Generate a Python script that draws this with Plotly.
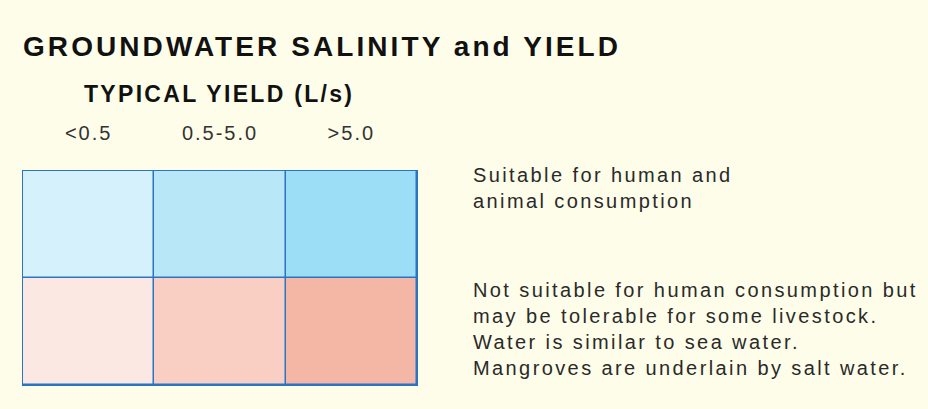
import plotly.graph_objects as go

yield_labels = ["<0.5", "0.5-5.0", ">5.0"]
salinity_rows = ["Fresh", "Saline"]
cell_codes = [[0, 1, 2], [3, 4, 5]]
cell_colors = ["#D5F1FC", "#B8E8F7", "#9CDEF5", "#FBE8E3", "#F9CFC4", "#F4B6A5"]
row_descriptions = [
    "Suitable for human and<br>animal consumption",
    "Not suitable for human consumption but<br>may be tolerable for some livestock.<br>Water is similar to sea water.<br>Mangroves are underlain by salt water.",
]
title_text = "GROUNDWATER SALINITY and YIELD"
subtitle_text = "TYPICAL YIELD (L/s)"

BG = "#FEFDE9"
LINE = "#2A74C4"
FONT = "Liberation Sans, Arial, sans-serif"

n = len(cell_colors)
colorscale = []
for i, c in enumerate(cell_colors):
    colorscale.append([i / n, c])
    colorscale.append([(i + 1) / n, c])

fig = go.Figure(
    go.Heatmap(
        z=cell_codes,
        x=yield_labels,
        y=salinity_rows,
        colorscale=colorscale,
        zmin=-0.5,
        zmax=n - 0.5,
        showscale=False,
        xgap=1.5,
        ygap=1.5,
        hoverinfo="skip",
    )
)

fig.update_layout(
    width=928,
    height=409,
    paper_bgcolor=BG,
    plot_bgcolor=LINE,
    margin=dict(l=23, r=511, t=171, b=24),
    showlegend=False,
    hovermode=False,
    font=dict(family=FONT, color="#222"),
)
fig.update_xaxes(
    side="top",
    showgrid=False,
    zeroline=False,
    ticks="",
    ticklabelstandoff=22,
    tickfont=dict(size=20, color="#333"),
    showline=True,
    linecolor=LINE,
    linewidth=1.2,
    mirror=True,
    fixedrange=True,
)
fig.update_yaxes(
    autorange="reversed",
    showgrid=False,
    zeroline=False,
    showticklabels=False,
    ticks="",
    showline=True,
    linecolor=LINE,
    linewidth=1.2,
    mirror=True,
    fixedrange=True,
)

fig.add_annotation(
    text="<b>" + title_text + "</b>", xref="paper", yref="paper",
    x=(21 - 23) / 394, y=(385 - 46) / 214, xanchor="left", yanchor="middle", align="left",
    showarrow=False, font=dict(size=28, color="#111", family=FONT),
)
fig.add_annotation(
    text="<b>" + subtitle_text + "</b>", xref="paper", yref="paper",
    x=(82 - 23) / 394, y=(385 - 94) / 214, xanchor="left", yanchor="middle", align="left",
    showarrow=False, font=dict(size=23, color="#111", family=FONT),
)
row_centers_px = [188, 329]
for desc, yc in zip(row_descriptions, row_centers_px):
    fig.add_annotation(
        text=desc, xref="paper", yref="paper",
        x=(471 - 23) / 394, y=(385 - yc) / 214, xanchor="left", yanchor="middle",
        align="left", showarrow=False, font=dict(size=20, color="#2a2a2a", family=FONT),
    )

post = (
    "document.body.style.margin='0';"
    "var s=document.createElement('style');"
    "s.textContent='.annotation-text{letter-spacing:0.1em} "
    ".annotation[data-index=\"0\"] .annotation-text{letter-spacing:0.11em} "
    ".annotation[data-index=\"2\"] .annotation-text,.annotation[data-index=\"3\"] .annotation-text{letter-spacing:0.12em} "
    ".xtick text{letter-spacing:0.1em}';"
    "document.head.appendChild(s);"
)
fig.write_html("out.html", post_script=post, config={"displayModeBar": False})
